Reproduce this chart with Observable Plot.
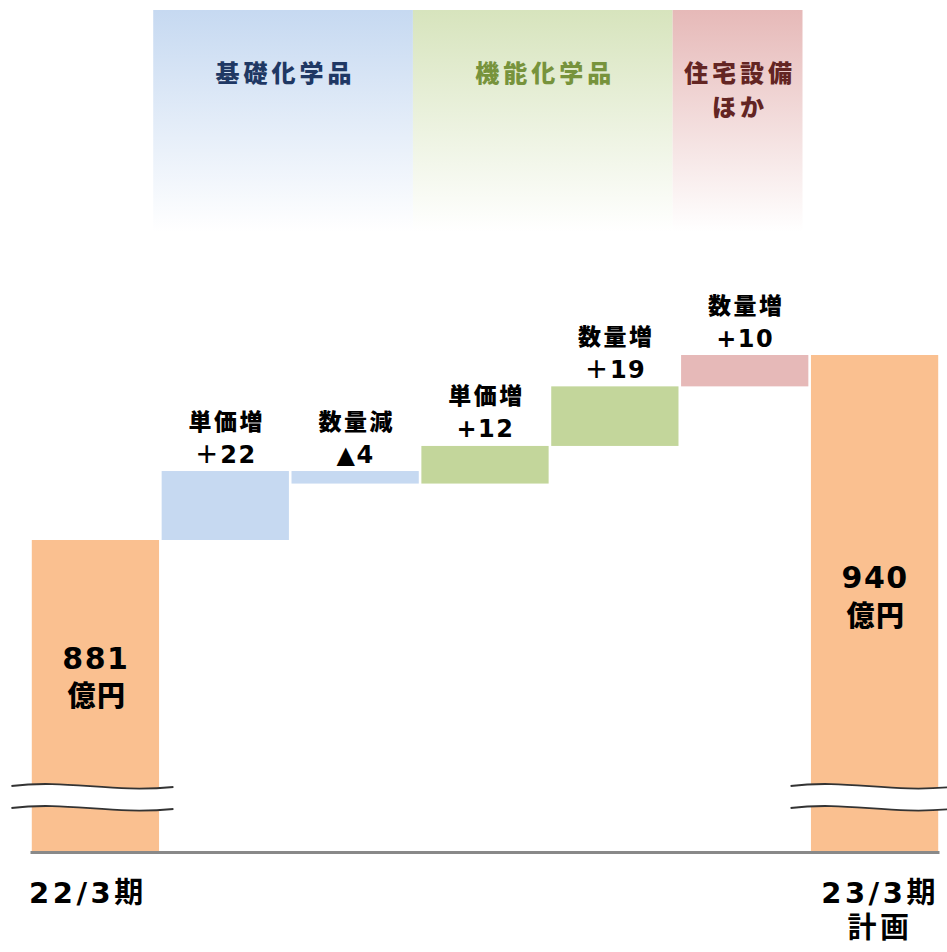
<!DOCTYPE html>
<html><head><meta charset="utf-8">
<script src="https://cdn.jsdelivr.net/npm/d3@7"></script>
<script src="https://cdn.jsdelivr.net/npm/@observablehq/plot@0.6"></script>
<style>
body{margin:0;background:#fff;}
#chart svg{display:block;}
.wide text{letter-spacing:3.5px;}
.mid text{letter-spacing:1.5px;}
.hdr text{letter-spacing:4px;}
.lab text{letter-spacing:2.5px;}
.unit text{letter-spacing:1.5px;}
</style></head><body><div id="chart"></div>
<script>
// ---- data ----
const steps = ["22/3期", "単価増", "数量減", "単価増", "数量増", "数量増", "23/3期\n計画"];
const kinds = ["total", "delta", "delta", "delta", "delta", "delta", "total"];
const values = [881, 22, -4, 12, 19, 10, 940];
const valueLabels = ["881", "＋22", "▲4", "+12", "＋19", "+10", "940"];
const unitLabel = "億円";
const barColors = ["#fac090", "#c6d9f1", "#c6d9f1", "#c3d69b", "#c3d69b", "#e6b9b8", "#fac090"];
const segments = ["基礎化学品", "機能化学品", "住宅設備\nほか"];
const segmentFrom = [1, 3, 5];
const segmentTo = [2, 4, 5];
const segmentColors = ["#c6d9f1", "#d7e4bd", "#e6b9b8"];
const segmentTextColors = ["#1f3864", "#77933c", "#632523"];
const axisBase = 781.5; // value at the broken baseline

// ---- layout ----
const W = 947, H = 952, MB = 100, PX = 3.1356;
const plotH = H - MB;
const yTop = axisBase + plotH / PX;
const py = px => axisBase + (plotH - px) / PX;
const FONT = '"DejaVu Sans", "Noto Sans CJK JP", sans-serif';
const CJK = '"Noto Sans CJK JP", sans-serif';

let run = 0;
const rows = steps.map((s, i) => {
  let y1, y2;
  if (kinds[i] === "total") { y1 = axisBase; y2 = values[i]; run = values[i]; }
  else { y1 = run; y2 = run + values[i]; run = y2; }
  return {i, step: s, kind: kinds[i], y1, y2, top: Math.max(y1, y2), color: barColors[i],
          head: s, val: valueLabels[i]};
});
const deltas = rows.filter(d => d.kind === "delta");
const totals = rows.filter(d => d.kind === "total");
const breakVal = py(784);
totals.forEach(d => { d.ly = d.top - 0.565 * (d.top - breakVal); });

const segRows = segments.map((s, k) => ({
  k, label: s, x1: segmentFrom[k] - 0.555, x2: segmentTo[k] + 0.445,
  fill: `url(#seg${k})`, tc: segmentTextColors[k]
}));

const ns = "http://www.w3.org/2000/svg";
function el(name, attrs) {
  const e = document.createElementNS(ns, name);
  for (const k in attrs) e.setAttribute(k, attrs[k]);
  return e;
}
const defsMark = () => {
  const defs = el("defs", {});
  segmentColors.forEach((c, k) => {
    const lg = el("linearGradient", {id: "seg" + k, x1: 0, y1: 0, x2: 0, y2: 1});
    lg.appendChild(el("stop", {offset: "0", "stop-color": c}));
    lg.appendChild(el("stop", {offset: "1", "stop-color": "#ffffff"}));
    defs.appendChild(lg);
  });
  return defs;
};
const breakMark = (index, scales) => {
  const g = el("g", {});
  const yb = scales.y(axisBase);
  totals.forEach(d => {
    const cx = scales.x(d.i);
    const x0 = cx - 84, x1 = cx + 78, w = x1 - x0;
    const wave = (b) => `M${x0},${b + 2} C${x0 + 0.35 * w},${b - 5} ${x0 + 0.6 * w},${b + 9} ${x1},${b + 3}`;
    const waveR = (b) => `L${x1},${b + 3} C${x0 + 0.6 * w},${b + 9} ${x0 + 0.35 * w},${b - 5} ${x0},${b + 2} Z`;
    const bTop = yb - 68, bBot = yb - 46;
    g.appendChild(el("path", {d: wave(bTop) + " " + waveR(bBot), fill: "#ffffff", stroke: "none"}));
    g.appendChild(el("path", {d: wave(bTop), fill: "none", stroke: "#333333", "stroke-width": 1.8}));
    g.appendChild(el("path", {d: wave(bBot), fill: "none", stroke: "#333333", "stroke-width": 1.8}));
  });
  return g;
};

const chart = Plot.plot({
  width: W, height: H,
  marginLeft: 30.5, marginRight: 7.5, marginTop: 0, marginBottom: MB,
  x: {type: "linear", domain: [-0.5, 6.5], axis: null},
  y: {domain: [axisBase, yTop], axis: null},
  color: {type: "identity"},
  style: {background: "#ffffff", fontFamily: FONT, color: "#000"},
  marks: [
    defsMark,
    Plot.rect(segRows, {x1: "x1", x2: "x2", y1: py(232), y2: py(10), fill: "fill"}),
    Plot.text(segRows, {x: d => (d.x1 + d.x2) / 2, y: py(57), dx: 2, text: "label", fill: "tc",
      fontSize: 24, fontWeight: 900, fontFamily: CJK, lineAnchor: "top", lineHeight: 1.42, className: "hdr"}),
    Plot.rect(rows, {x1: d => d.i - 0.49, x2: d => d.i + 0.49, y1: "y1", y2: "y2", fill: "color"}),
    Plot.ruleY([axisBase], {stroke: "#898989", strokeWidth: 3}),
    breakMark,
    // labels above the step bars
    Plot.text(deltas, {x: "i", y: "top", text: "head", dy: -42, dx: 1, lineAnchor: "bottom",
      fontSize: 23, fontWeight: 900, fontFamily: CJK, fill: "#000", className: "lab"}),
    Plot.text(deltas, {x: "i", y: "top", text: "val", dy: -9, lineAnchor: "bottom",
      fontSize: 24, fontWeight: "bold", fill: "#000", className: "mid"}),
    // labels inside total bars
    Plot.text(totals, {x: "i", y: "ly", text: "val", dy: -19, fontSize: 30, fontWeight: "bold",
      fill: "#000", className: "mid"}),
    Plot.text(totals, {x: "i", y: "ly", text: () => unitLabel, dy: 19, dx: 1, fontSize: 28, fontWeight: 900,
      fontFamily: CJK, fill: "#000", className: "unit"}),
    // category labels under the baseline
    Plot.text(totals.slice(0, 1), {x: "i", y: axisBase, text: "step", dy: 26, dx: -8, lineAnchor: "top", lineHeight: 1.2,
      fontSize: 29, fontWeight: "bold", fill: "#000", className: "wide"}),
    Plot.text(totals.slice(1), {x: "i", y: axisBase, text: "step", dy: 26, dx: 5, lineAnchor: "top", lineHeight: 1.2,
      fontSize: 29, fontWeight: "bold", fill: "#000", className: "wide"})
  ]
});
document.getElementById("chart").appendChild(chart);
</script></body></html>
